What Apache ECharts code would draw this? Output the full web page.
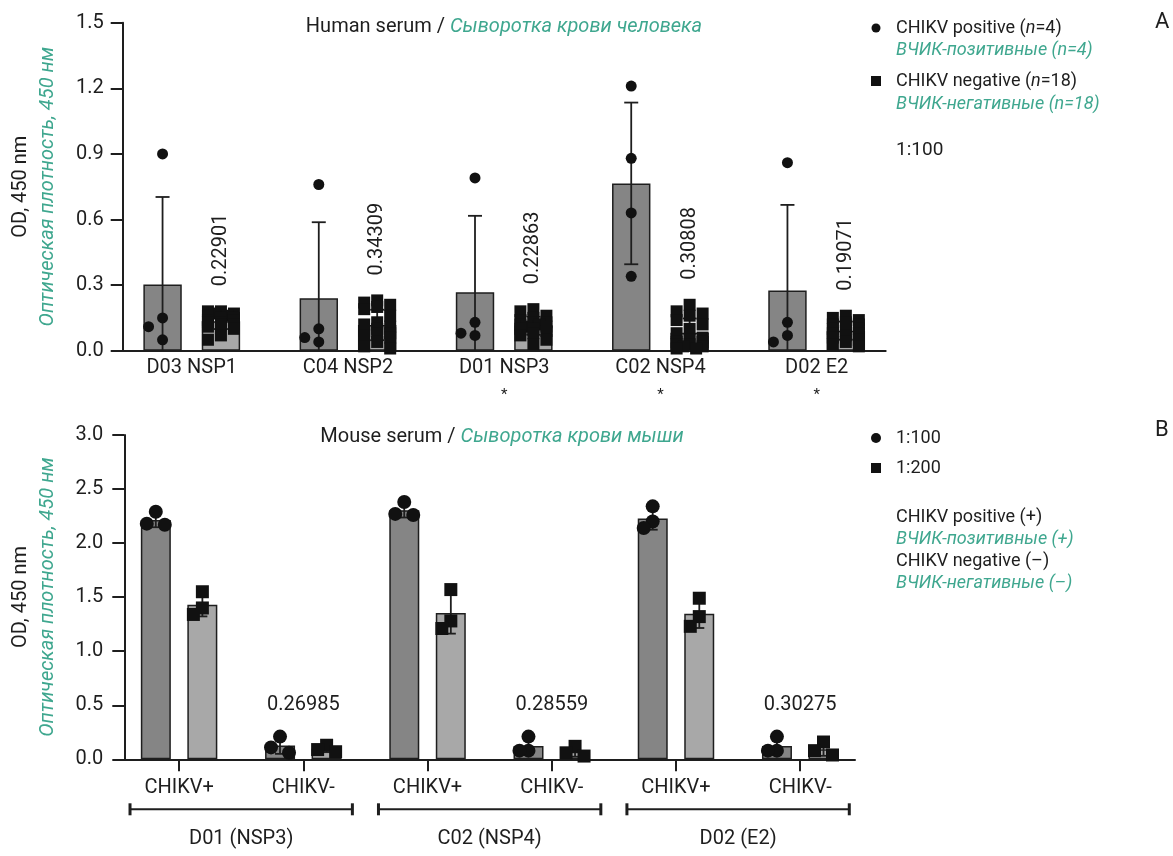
<!DOCTYPE html>
<html><head><meta charset="utf-8">
<script src="https://cdn.jsdelivr.net/npm/echarts@6/dist/echarts.min.js"></script>
<style>html,body{margin:0;padding:0;background:#fff}#c{width:1173px;height:856px}</style>
</head><body><div id="c"></div>
<script>
// ---------- DATA ----------
const humanCategories = ['D03 NSP1', 'C04 NSP2', 'D01 NSP3', 'C02 NSP4', 'D02 E2'];
const humanStar = [false, false, true, true, true];
const humanPositive = [
  [0.90, 0.15, 0.11, 0.05],
  [0.76, 0.10, 0.06, 0.04],
  [0.79, 0.13, 0.08, 0.07],
  [1.21, 0.88, 0.63, 0.34],
  [0.86, 0.13, 0.07, 0.04]
];
const humanNegative = [
  [0.18, 0.18, 0.17, 0.17, 0.16, 0.16, 0.15, 0.15, 0.14, 0.14, 0.13, 0.13, 0.12, 0.12, 0.11, 0.10, 0.07, 0.05],
  [0.23, 0.22, 0.21, 0.20, 0.19, 0.16, 0.13, 0.12, 0.11, 0.10, 0.09, 0.08, 0.08, 0.07, 0.06, 0.04, 0.02, 0.01],
  [0.19, 0.18, 0.16, 0.15, 0.14, 0.13, 0.13, 0.12, 0.12, 0.11, 0.11, 0.10, 0.10, 0.09, 0.08, 0.07, 0.05, 0.03],
  [0.21, 0.18, 0.17, 0.16, 0.14, 0.12, 0.10, 0.08, 0.06, 0.05, 0.04, 0.04, 0.03, 0.03, 0.02, 0.02, 0.01, 0.01],
  [0.16, 0.15, 0.14, 0.13, 0.12, 0.12, 0.11, 0.10, 0.10, 0.09, 0.08, 0.08, 0.07, 0.06, 0.05, 0.04, 0.03, 0.02]
];
const humanCutoffs = ['0.22901', '0.34309', '0.22863', '0.30808', '0.19071'];
const humanYTicks = { min: 0, max: 1.5, step: 0.3 };

const mouseCategories = ['CHIKV+', 'CHIKV-', 'CHIKV+', 'CHIKV-', 'CHIKV+', 'CHIKV-'];
const mouseGroups = ['D01 (NSP3)', 'C02 (NSP4)', 'D02 (E2)'];
const mouseDil100 = [
  [2.29, 2.18, 2.17],
  [0.21, 0.11, 0.06],
  [2.38, 2.27, 2.26],
  [0.21, 0.08, 0.08],
  [2.34, 2.20, 2.14],
  [0.21, 0.08, 0.08]
];
const mouseDil200 = [
  [1.55, 1.40, 1.34],
  [0.13, 0.09, 0.07],
  [1.57, 1.28, 1.21],
  [0.12, 0.06, 0.03],
  [1.49, 1.32, 1.23],
  [0.16, 0.08, 0.04]
];
const mouseCutoffs = [null, '0.26985', null, '0.28559', null, '0.30275'];
const mouseYTicks = { min: 0, max: 3.0, step: 0.5 };

// ---------- STYLE ----------
const FONT = 'Roboto';
const INK = '#1e1e1e';
const GREEN = '#3fa78f';
const DARK = '#858585';
const LIGHT = '#a8a8a8';

const mean = a => a.reduce((s, v) => s + v, 0) / a.length;
const sd = a => { const m = mean(a); return Math.sqrt(a.reduce((s, v) => s + (v - m) * (v - m), 0) / (a.length - 1)); };

// simple beeswarm offsets in pixels
function swarm(ys, size, step, maxK, square) {
  const order = ys.map((y, i) => i).sort((a, b) => ys[a] - ys[b]);
  const ks = [0];
  for (let k = 1; k <= maxK; k++) { ks.push(-k, k); }
  const placed = [];
  const off = new Array(ys.length).fill(0);
  order.forEach(i => {
    const y = ys[i];
    let best = 0, bestScore = Infinity;
    for (const k of ks) {
      const x = k * step;
      let score = 0;
      for (const p of placed) {
        const dx = Math.abs(p.x - x), dy = Math.abs(p.y - y);
        if (square) { if (dx < size && dy < size) score += (size - dx) * (size - dy); }
        else { const d = Math.hypot(dx, dy); if (d < size) score += (size - d) * (size - d); }
      }
      if (score < bestScore - 1e-6) { bestScore = score; best = x; }
      if (score === 0) break;
    }
    off[i] = best;
    placed.push({ x: best, y });
  });
  return off;
}

function makeErrRender(left, right, halfOff, capW, lw) {
  return function (params, api) {
    const i = params.dataIndex;
    const c = api.coord([i, 0]);
    const ch = [];
    [[left, -1], [right, 1]].forEach(([arrs, s]) => {
      const a = arrs[i];
      const m = mean(a), d = sd(a);
      const x = c[0] + s * halfOff;
      const yT = api.coord([i, m + d])[1];
      const lo = Math.max(0, m - d);
      const yB = api.coord([i, lo])[1];
      const st = { stroke: INK, lineWidth: lw };
      ch.push({ type: 'line', shape: { x1: x, y1: yT, x2: x, y2: yB }, style: st });
      ch.push({ type: 'line', shape: { x1: x - capW / 2, y1: yT, x2: x + capW / 2, y2: yT }, style: st });
      if (m - d > 0) ch.push({ type: 'line', shape: { x1: x - capW / 2, y1: yB, x2: x + capW / 2, y2: yB }, style: st });
    });
    return { type: 'group', children: ch };
  };
}

function makePointRender(left, right, halfOff, cfgL, cfgR) {
  return function (params, api) {
    const i = params.dataIndex;
    const c = api.coord([i, 0]);
    const ch = [];
    [[left, -1, cfgL], [right, 1, cfgR]].forEach(([arrs, s, cfg]) => {
      const a = arrs[i];
      const ys = a.map(v => api.coord([i, v])[1]);
      const offs = swarm(ys, cfg.size, cfg.step, cfg.maxK, cfg.square);
      const x0 = c[0] + s * halfOff;
      a.forEach((v, j) => {
        const x = x0 + offs[j], y = ys[j];
        if (cfg.square) {
          ch.push({ type: 'rect', shape: { x: x - cfg.size / 2, y: y - cfg.size / 2, width: cfg.size, height: cfg.size }, style: { fill: '#111' } });
        } else {
          ch.push({ type: 'circle', shape: { cx: x, cy: y, r: cfg.size / 2 }, style: { fill: '#111' } });
        }
      });
    });
    return { type: 'group', children: ch };
  };
}

const topHalf = (38.4 + 20) / 2;
const botHalf = (30 + 16.6) / 2;

const axisLineStyle = { color: INK, width: 2 };
function yAxisCfg(grid, t, margin) {
  return {
    gridIndex: grid, type: 'value', min: t.min, max: t.max, interval: t.step,
    axisLine: { show: true, onZero: false, lineStyle: axisLineStyle },
    axisTick: { show: true, length: 12, lineStyle: { color: INK, width: 2 } },
    axisLabel: { margin: margin, fontFamily: FONT, fontSize: 20, color: INK, formatter: v => v.toFixed(1) },
    splitLine: { show: false }
  };
}

function vText(x, y, text, color, italic) {
  return { type: 'text', x: x, y: y, rotation: Math.PI / 2,
    style: { text: text, fontFamily: FONT, fontSize: 20, fill: color, fontStyle: italic ? 'italic' : 'normal', align: 'center', verticalAlign: 'middle' } };
}
function hText(x, y, text, color, italic, size) {
  return { type: 'text', x: x, y: y,
    style: { text: text, fontFamily: FONT, fontSize: size || 18, fill: color, fontStyle: italic ? 'italic' : 'normal', verticalAlign: 'middle' } };
}

const option = {
  animation: false,
  backgroundColor: '#fff',
  textStyle: { fontFamily: FONT },
  grid: [
    { left: 122.7, right: 1173 - 885.7, top: 22.7, height: 328 },
    { left: 124.3, right: 1173 - 855, top: 435, height: 324.3 }
  ],
  xAxis: [
    {
      gridIndex: 0, type: 'value', min: -0.442, max: humanCategories.length - 1 + 0.442,
      axisLine: { show: true, onZero: false, lineStyle: axisLineStyle },
      axisTick: { show: false }, splitLine: { show: false },
      axisLabel: {
        customValues: humanCategories.map((c, i) => i),
        margin: 5,
        formatter: v => {
          const i = Math.round(v);
          return humanStar[i] ? '{n|' + humanCategories[i] + '}\n{s|*}' : '{n|' + humanCategories[i] + '}';
        },
        rich: {
          n: { fontFamily: FONT, fontSize: 20, color: INK, lineHeight: 24 },
          s: { fontFamily: FONT, fontSize: 15, color: INK, lineHeight: 32 }
        }
      }
    },
    {
      gridIndex: 1, type: 'value', min: -0.441, max: mouseCategories.length - 1 + 0.441,
      axisLine: { show: true, onZero: false, lineStyle: axisLineStyle },
      axisTick: { show: true, customValues: mouseCategories.map((c, i) => i), length: 12, lineStyle: { color: INK, width: 2 } },
      splitLine: { show: false },
      axisLabel: {
        customValues: mouseCategories.map((c, i) => i),
        margin: 19, fontFamily: FONT, fontSize: 20, color: INK,
        formatter: v => mouseCategories[Math.round(v)]
      }
    }
  ],
  yAxis: [yAxisCfg(0, humanYTicks, 19), yAxisCfg(1, mouseYTicks, 21)],
  series: [
    {
      type: 'bar', name: 'CHIKV positive', xAxisIndex: 0, yAxisIndex: 0, z: 2,
      barWidth: 38.4, barGap: '52%',
      data: humanPositive.map((a, i) => [i, mean(a)]),
      itemStyle: { color: DARK, borderColor: INK, borderWidth: 1.5 }
    },
    {
      type: 'bar', name: 'CHIKV negative', xAxisIndex: 0, yAxisIndex: 0, z: 2,
      barWidth: 38.4, barGap: '52%',
      data: humanNegative.map((a, i) => [i, mean(a)]),
      itemStyle: { color: LIGHT, borderColor: INK, borderWidth: 1.5 }
    },
    {
      type: 'custom', xAxisIndex: 0, yAxisIndex: 0, z: 3,
      data: humanCategories.map((c, i) => [i, 0]),
      renderItem: makeErrRender(humanPositive, humanNegative, topHalf, 14, 1.8)
    },
    {
      type: 'custom', xAxisIndex: 0, yAxisIndex: 0, z: 4,
      data: humanCategories.map((c, i) => [i, 0]),
      renderItem: makePointRender(humanPositive, humanNegative, topHalf,
        { size: 11, step: 14, maxK: 1, square: false },
        { size: 12, step: 6.5, maxK: 2, square: true })
    },
    {
      type: 'custom', xAxisIndex: 0, yAxisIndex: 0, z: 5, clip: false,
      data: humanCategories.map((c, i) => [i, Math.max(...humanNegative[i])]),
      renderItem: (params, api) => {
        const i = params.dataIndex;
        const p = api.coord([i, Math.max(...humanNegative[i])]);
        return {
          type: 'text', x: p[0] + topHalf, y: p[1] - 25, rotation: Math.PI / 2,
          style: { text: humanCutoffs[i], fontFamily: FONT, fontSize: 20, fill: INK, align: 'left', verticalAlign: 'middle' }
        };
      }
    },
    // mouse
    {
      type: 'bar', name: '1:100', xAxisIndex: 1, yAxisIndex: 1, z: 2,
      barWidth: 30, barGap: '55%',
      data: mouseDil100.map((a, i) => [i, mean(a)]),
      itemStyle: { color: DARK, borderColor: INK, borderWidth: 1.5 }
    },
    {
      type: 'bar', name: '1:200', xAxisIndex: 1, yAxisIndex: 1, z: 2,
      barWidth: 30, barGap: '55%',
      data: mouseDil200.map((a, i) => [i, mean(a)]),
      itemStyle: { color: LIGHT, borderColor: INK, borderWidth: 1.5 }
    },
    {
      type: 'custom', xAxisIndex: 1, yAxisIndex: 1, z: 3,
      data: mouseCategories.map((c, i) => [i, 0]),
      renderItem: makeErrRender(mouseDil100, mouseDil200, botHalf, 10, 1.8)
    },
    {
      type: 'custom', xAxisIndex: 1, yAxisIndex: 1, z: 4,
      data: mouseCategories.map((c, i) => [i, 0]),
      renderItem: makePointRender(mouseDil100, mouseDil200, botHalf,
        { size: 14, step: 9, maxK: 1, square: false },
        { size: 13, step: 9, maxK: 1, square: true })
    },
    {
      type: 'custom', xAxisIndex: 1, yAxisIndex: 1, z: 5, clip: false,
      data: mouseCategories.map((c, i) => [i, Math.max(...mouseDil100[i], ...mouseDil200[i])]),
      renderItem: (params, api) => {
        const i = params.dataIndex;
        if (!mouseCutoffs[i]) return null;
        const p = api.coord([i, Math.max(...mouseDil100[i], ...mouseDil200[i])]);
        return {
          type: 'text', x: p[0], y: p[1] - 32,
          style: { text: mouseCutoffs[i], fontFamily: FONT, fontSize: 20, fill: INK, align: 'center', verticalAlign: 'middle' }
        };
      }
    },
    {
      type: 'custom', xAxisIndex: 1, yAxisIndex: 1, z: 5, clip: false,
      data: mouseGroups.map((g, i) => [2 * i, 0]),
      renderItem: (params, api) => {
        const g = params.dataIndex;
        const a = api.coord([2 * g, 0]);
        const b = api.coord([2 * g + 1, 0]);
        const unit = b[0] - a[0];
        const x1 = a[0] - 0.395 * unit, x2 = b[0] + 0.395 * unit;
        const y = a[1] + 50;
        const st = { stroke: INK, lineWidth: 2 };
        return {
          type: 'group', children: [
            { type: 'line', shape: { x1, y1: y, x2, y2: y }, style: st },
            { type: 'line', shape: { x1, y1: y - 6, x2: x1, y2: y + 6 }, style: { stroke: INK, lineWidth: 3 } },
            { type: 'line', shape: { x1: x2, y1: y - 6, x2: x2, y2: y + 6 }, style: { stroke: INK, lineWidth: 3 } },
            { type: 'text', x: (x1 + x2) / 2, y: y + 30, style: { text: mouseGroups[g], fontFamily: FONT, fontSize: 20, fill: INK, align: 'center', verticalAlign: 'middle' } }
          ]
        };
      }
    }
  ],
  graphic: [
    // titles
    { type: 'text', x: 504, y: 27, style: { text: '{a|Human serum / }{b|Сыворотка крови человека}', align: 'center', verticalAlign: 'middle',
      rich: { a: { fontFamily: FONT, fontSize: 20, fill: INK }, b: { fontFamily: FONT, fontSize: 20, fill: GREEN, fontStyle: 'italic' } } } },
    { type: 'text', x: 502, y: 437, style: { text: '{a|Mouse serum / }{b|Сыворотка крови мыши}', align: 'center', verticalAlign: 'middle',
      rich: { a: { fontFamily: FONT, fontSize: 20, fill: INK }, b: { fontFamily: FONT, fontSize: 20, fill: GREEN, fontStyle: 'italic' } } } },
    // y axis names
    vText(21, 186.7, 'OD, 450 nm', INK, false),
    vText(48, 186.7, 'Оптическая плотность, 450 нм', GREEN, true),
    vText(21, 597, 'OD, 450 nm', INK, false),
    vText(48, 597, 'Оптическая плотность, 450 нм', GREEN, true),
    // legend A
    { type: 'circle', shape: { cx: 876, cy: 28, r: 4.5 }, style: { fill: '#111' } },
    { type: 'text', x: 896, y: 28, style: { text: '{a|CHIKV positive (}{i|n}{a|=4)}', verticalAlign: 'middle',
      rich: { a: { fontFamily: FONT, fontSize: 18, fill: INK }, i: { fontFamily: FONT, fontSize: 18, fill: INK, fontStyle: 'italic' } } } },
    hText(896, 50, 'ВЧИК-позитивные (n=4)', GREEN, true),
    { type: 'rect', shape: { x: 871, y: 76, width: 10, height: 10 }, style: { fill: '#111' } },
    { type: 'text', x: 896, y: 81, style: { text: '{a|CHIKV negative (}{i|n}{a|=18)}', verticalAlign: 'middle',
      rich: { a: { fontFamily: FONT, fontSize: 18, fill: INK }, i: { fontFamily: FONT, fontSize: 18, fill: INK, fontStyle: 'italic' } } } },
    hText(896, 104, 'ВЧИК-негативные (n=18)', GREEN, true),
    hText(896, 150, '1:100', INK, false, 19),
    hText(1155, 22, 'A', INK, false, 22),
    // legend B
    { type: 'circle', shape: { cx: 876, cy: 438, r: 5 }, style: { fill: '#111' } },
    hText(896, 438, '1:100', INK, false),
    { type: 'rect', shape: { x: 871, y: 463, width: 10, height: 10 }, style: { fill: '#111' } },
    hText(896, 468, '1:200', INK, false),
    hText(896, 517, 'CHIKV positive (+)', INK, false),
    hText(896, 539, 'ВЧИК-позитивные (+)', GREEN, true),
    hText(896, 561, 'CHIKV negative (–)', INK, false),
    hText(896, 583, 'ВЧИК-негативные (–)', GREEN, true),
    hText(1155, 430, 'B', INK, false, 22)
  ]
};

const chart = echarts.init(document.getElementById('c'), null, { renderer: 'canvas' });
chart.setOption(option);
</script>
</body></html>
